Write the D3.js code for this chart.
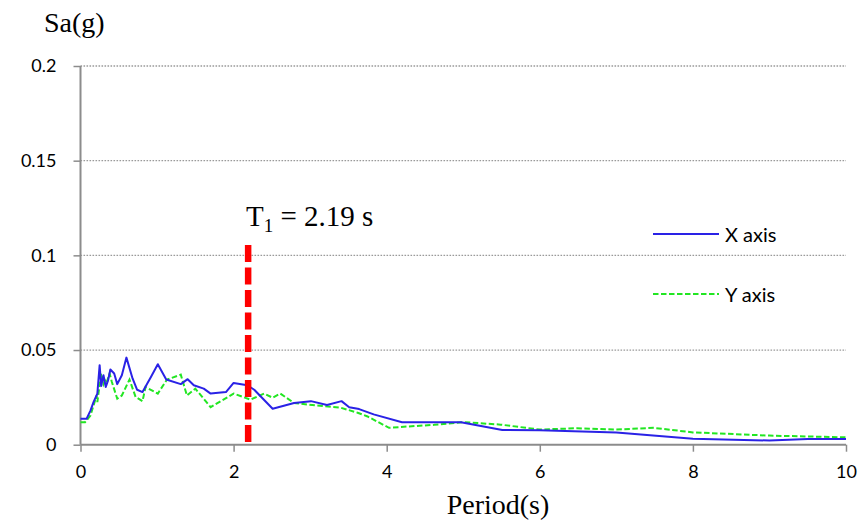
<!DOCTYPE html>
<html>
<head>
<meta charset="utf-8">
<script src="https://cdn.jsdelivr.net/npm/d3@7/dist/d3.min.js"></script>
<style>
  html, body { margin: 0; padding: 0; background: #fff; }
  svg { display: block; }
</style>
</head>
<body>
<svg id="chart" width="865" height="529"></svg>
<script>
// Response spectrum, X direction: [period (s), Sa (g)]
const seriesX = [
  [0, 0.0137], [0.08, 0.0137], [0.13, 0.018], [0.17, 0.0225], [0.22, 0.027],
  [0.25, 0.042], [0.27, 0.031], [0.30, 0.0367], [0.33, 0.0305], [0.36, 0.034],
  [0.39, 0.0397], [0.44, 0.0376], [0.48, 0.032], [0.54, 0.0367], [0.60, 0.046],
  [0.68, 0.035], [0.74, 0.029], [0.81, 0.0278], [0.92, 0.0358], [1.01, 0.0425],
  [1.12, 0.0344], [1.31, 0.032], [1.40, 0.0346], [1.48, 0.0314], [1.61, 0.0296],
  [1.70, 0.027], [1.90, 0.0278], [2.00, 0.0326], [2.18, 0.0314], [2.27, 0.029],
  [2.51, 0.019], [2.79, 0.022], [3.01, 0.023], [3.22, 0.021], [3.41, 0.023],
  [3.51, 0.0198], [3.64, 0.0188], [3.83, 0.016], [4.20, 0.0119], [4.97, 0.0119],
  [5.51, 0.0078], [6.0, 0.0076], [7.0, 0.0065], [8.0, 0.0032], [9.0, 0.0022],
  [9.5, 0.003], [10.0, 0.003]
];

// Response spectrum, Y direction: [period (s), Sa (g)]
const seriesY = [
  [0, 0.0119], [0.06, 0.0119], [0.13, 0.0154], [0.17, 0.0207], [0.21, 0.026],
  [0.22, 0.0225], [0.27, 0.0376], [0.30, 0.032], [0.32, 0.034], [0.34, 0.0326],
  [0.38, 0.0376], [0.41, 0.0331], [0.48, 0.0243], [0.54, 0.026], [0.64, 0.0344],
  [0.72, 0.0252], [0.81, 0.023], [0.85, 0.0305], [1.01, 0.027], [1.13, 0.0344],
  [1.31, 0.037], [1.39, 0.026], [1.50, 0.0296], [1.70, 0.0198], [1.85, 0.0234],
  [2.00, 0.027], [2.22, 0.0238], [2.40, 0.027], [2.51, 0.0248], [2.61, 0.027],
  [2.79, 0.022], [3.09, 0.0207], [3.40, 0.0195], [3.62, 0.0169], [3.75, 0.0149],
  [4.03, 0.0089], [4.27, 0.0096], [4.62, 0.0105], [5.01, 0.0119], [5.49, 0.0106],
  [6.0, 0.008], [6.49, 0.0087], [7.0, 0.008], [7.49, 0.0089], [8.0, 0.0065],
  [9.0, 0.0048], [10.0, 0.0039]
];

const seriesNames = ["X axis", "Y axis"];
const xTicks = [0, 2, 4, 6, 8, 10];
const xTickLabels = ["0", "2", "4", "6", "8", "10"];
const yTicks = [0, 0.05, 0.1, 0.15, 0.2];
const yTickLabels = ["0", "0.05", "0.1", "0.15", "0.2"];

// Fundamental period marker
const periodT1 = 2.19;
const markerTop = 0.1055;

const svg = d3.select("#chart");
const plotLeft = 80.5, plotRight = 846, plotTop = 66, plotBottom = 444.7;

const x = d3.scaleLinear().domain([0, 10]).range([plotLeft, plotRight]);
const y = d3.scaleLinear().domain([0, 0.2]).range([plotBottom, plotTop]);

const sansFont = "Lato, 'Open Sans', sans-serif";
const serifFont = "'Liberation Serif', 'DejaVu Serif', serif";

// Horizontal dotted gridlines
svg.append("g")
  .selectAll("line")
  .data(yTicks.filter(d => d > 0))
  .join("line")
  .attr("x1", plotLeft).attr("x2", plotRight)
  .attr("y1", d => y(d)).attr("y2", d => y(d))
  .attr("stroke", "#9a9a9a")
  .attr("stroke-width", 1.3)
  .attr("stroke-dasharray", "1.6,1.4");

// Axes
const yAxis = d3.axisLeft(y)
  .tickValues(yTicks)
  .tickFormat((d, i) => yTickLabels[i])
  .tickSize(7)
  .tickPadding(17);
const xAxis = d3.axisBottom(x)
  .tickValues(xTicks)
  .tickFormat((d, i) => xTickLabels[i])
  .tickSize(7)
  .tickPadding(14);

const gy = svg.append("g").attr("transform", `translate(${plotLeft},0)`).call(yAxis);
const gx = svg.append("g").attr("transform", `translate(0,${plotBottom})`).call(xAxis);

[gx, gy].forEach(g => {
  g.select(".domain").attr("stroke", "#8c8c8c").attr("stroke-width", 2);
  g.selectAll(".tick line").attr("stroke", "#8c8c8c").attr("stroke-width", 1.5);
  g.selectAll(".tick text")
    .attr("fill", "#000")
    .style("font-family", sansFont)
    .style("font-size", "18px");
});
gy.select(".domain").attr("d", `M0,${plotTop}V${plotBottom}`);
gx.select(".domain").attr("d", `M${plotLeft},0H${plotRight}`);

// Spectrum lines
const line = d3.line().x(d => x(d[0])).y(d => y(d[1]));

svg.append("path")
  .datum(seriesY)
  .attr("d", line)
  .attr("fill", "none")
  .attr("stroke", "#22e622")
  .attr("stroke-width", 2)
  .attr("stroke-dasharray", "5.5,2.5");

svg.append("path")
  .datum(seriesX)
  .attr("d", line)
  .attr("fill", "none")
  .attr("stroke", "#2a22e6")
  .attr("stroke-width", 2)
  .attr("stroke-linejoin", "round");

// Fundamental period marker line
svg.append("line")
  .attr("x1", x(periodT1)).attr("x2", x(periodT1))
  .attr("y1", y(markerTop)).attr("y2", y(0))
  .attr("stroke", "#ff0000")
  .attr("stroke-width", 6.5)
  .attr("stroke-dasharray", "17,5.5");

const tLabel = svg.append("text")
  .attr("x", 246).attr("y", 226)
  .style("font-family", serifFont)
  .style("font-size", "29px")
  .attr("fill", "#000");
tLabel.append("tspan").text("T");
tLabel.append("tspan").attr("dy", 6).style("font-size", "19px").text("1");
tLabel.append("tspan").attr("dy", -6).text(" = " + periodT1 + " s");

// Axis titles
svg.append("text")
  .attr("x", 44).attr("y", 32)
  .style("font-family", serifFont)
  .style("font-size", "28px")
  .attr("fill", "#000")
  .text("Sa(g)");

svg.append("text")
  .attr("x", 498).attr("y", 514)
  .attr("text-anchor", "middle")
  .style("font-family", serifFont)
  .style("font-size", "28px")
  .attr("fill", "#000")
  .text("Period(s)");

// Legend
const legend = svg.append("g");
const legendItems = [
  { name: seriesNames[0], yPos: 234, color: "#2a22e6", dash: null },
  { name: seriesNames[1], yPos: 294, color: "#22e622", dash: "5.5,2.5" }
];
legendItems.forEach(item => {
  legend.append("line")
    .attr("x1", 653).attr("x2", 719)
    .attr("y1", item.yPos).attr("y2", item.yPos)
    .attr("stroke", item.color)
    .attr("stroke-width", 2)
    .attr("stroke-dasharray", item.dash);
  legend.append("text")
    .attr("x", 725).attr("y", item.yPos + 8)
    .style("font-family", sansFont)
    .style("font-size", "20px")
    .attr("fill", "#000")
    .text(item.name);
});
</script>
</body>
</html>
